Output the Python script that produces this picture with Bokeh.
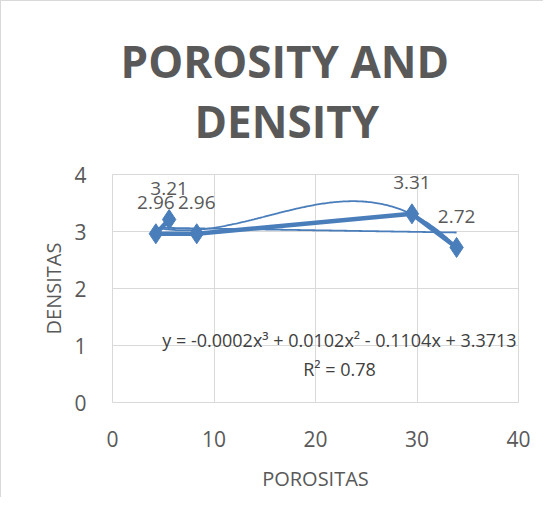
import numpy as np
from bokeh.plotting import figure
from bokeh.models import ColumnDataSource, Label, LabelSet, FixedTicker, Title
from bokeh.core.properties import value
from bokeh.embed import file_html
from bokeh.resources import INLINE

# data
porositas = [5.58, 4.27, 8.3, 29.5, 33.9]
densitas = [3.21, 2.96, 2.96, 3.31, 2.72]
x_ticks = [0, 10, 20, 30, 40]
y_ticks = [0, 1, 2, 3, 4]
title_lines = ["POROSITY AND", "DENSITY"]
equation = "y = -0.0002x³ + 0.0102x² - 0.1104x + 3.3713"
r2_text = "R² = 0.78"

BLUE = "#4A7EBB"
GRID = "#D9D9D9"
TXT = "#595959"
FONT = "Open Sans"

p = figure(width=543, height=497, x_range=(0, 40), y_range=(0, 4),
           output_backend="svg", toolbar_location=None,
           min_border_left=111, min_border_right=26,
           min_border_top=173, min_border_bottom=96,
           styles={"border-left": "1px solid #D9D9D9", "border-top": "1px solid #D9D9D9"})
p.outline_line_color = GRID
p.background_fill_color = "white"
p.border_fill_color = "white"

for ax, ticks in ((p.xaxis[0], x_ticks), (p.yaxis[0], y_ticks)):
    ax.ticker = FixedTicker(ticks=ticks)
    ax.axis_line_color = None
    ax.major_tick_line_color = None
    ax.minor_tick_line_color = None
    ax.major_label_text_font = FONT
    ax.major_label_text_font_size = "21px"
    ax.major_label_text_color = TXT
    ax.axis_label_text_font = FONT
    ax.axis_label_text_font_size = "20px"
    ax.axis_label_text_font_style = "normal"
    ax.axis_label_text_color = TXT
p.xaxis.major_label_standoff = 22
p.yaxis.major_label_standoff = 20
p.xaxis.axis_label = "POROSITAS"
p.yaxis.axis_label = "DENSITAS"
p.xaxis.axis_label_standoff = 15
p.yaxis.axis_label_standoff = 4

p.xgrid.ticker = FixedTicker(ticks=x_ticks)
p.ygrid.ticker = FixedTicker(ticks=y_ticks)
p.grid.grid_line_color = GRID
p.grid.grid_line_width = 1

xs = np.array(porositas)
ys = np.array(densitas)
xfit = np.linspace(xs.min(), xs.max(), 200)
cubic = np.polyval(np.polyfit(xs, ys, 3), xfit)
linear = np.polyval(np.polyfit(xs, ys, 1), xfit)

p.line(xfit, linear, line_color=BLUE, line_width=1.8)
p.line(xfit, cubic, line_color=BLUE, line_width=1.8)

src = ColumnDataSource(dict(x=porositas, y=densitas,
                            lab=["%.2f" % v for v in densitas]))
p.line("x", "y", source=src, line_color=BLUE, line_width=4.5)
p.scatter("x", "y", source=src, marker="diamond", size=20,
          fill_color=BLUE, line_color=BLUE)

p.add_layout(LabelSet(x="x", y="y", text="lab", source=src, y_offset=31,
                      text_align="center", text_baseline="middle",
                      text_font=value(FONT), text_font_size=value("19px"),
                      text_color=TXT))

# title: two lines, stacked above the frame (first added is nearest the frame)
p.add_layout(Title(text=title_lines[1], align="left", standoff=48, offset=82,
                   text_font=FONT, text_font_style="bold",
                   text_font_size="44px", text_color=TXT), "above")
p.add_layout(Title(text=title_lines[0], align="left", standoff=-52, offset=8,
                   text_font=FONT, text_font_style="bold",
                   text_font_size="44px", text_color=TXT), "above")

p.add_layout(Label(x=22.36, y=1.088, text=equation, text_align="center",
                   text_baseline="middle", text_font=FONT,
                   text_font_size="18px", text_color="#404040"))
p.add_layout(Label(x=22.36, y=0.596, text=r2_text, text_align="center",
                   text_baseline="middle", text_font=FONT,
                   text_font_size="18px", text_color="#404040"))

open("out.html", "w").write(file_html(p, INLINE))
